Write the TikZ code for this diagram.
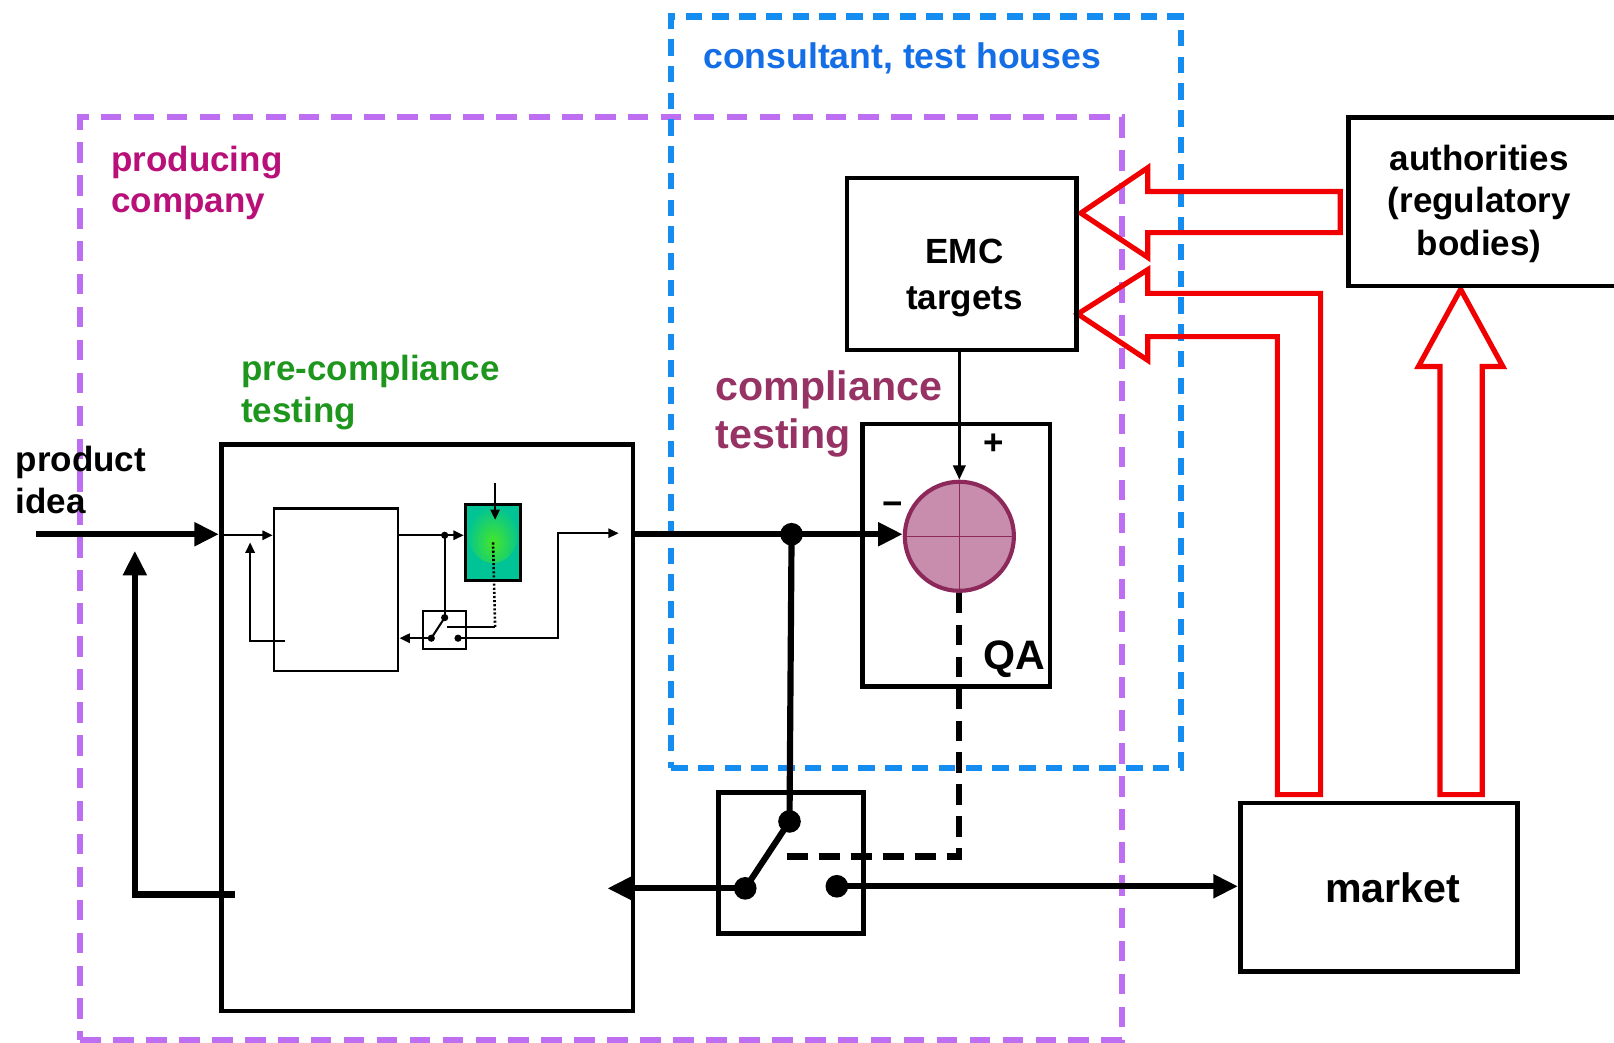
\documentclass[tikz,border=0pt]{standalone}
\usepackage{fontspec}
\setmainfont{Liberation Sans}
\usetikzlibrary{arrows.meta}
\definecolor{vio}{RGB}{190,110,240}
\definecolor{skyb}{RGB}{20,140,240}
\definecolor{txtblue}{RGB}{20,110,230}
\definecolor{prodmag}{RGB}{185,15,120}
\definecolor{pregreen}{RGB}{30,150,30}
\definecolor{compmag}{RGB}{150,50,100}
\definecolor{circfill}{RGB}{200,140,172}
\definecolor{circedge}{RGB}{140,40,90}
\definecolor{arrred}{RGB}{240,0,0}
\definecolor{tealb}{RGB}{0,195,150}
\definecolor{limeb}{RGB}{70,230,40}
\begin{document}
\begin{tikzpicture}[x=1pt,y=-1pt,
  frame/.style={line width=6pt, inner sep=0pt},
  blk/.style={draw, line width=4.5pt, inner sep=0pt},
  thinbox/.style={draw, line width=2.2pt, inner sep=0pt},
  conn/.style={line width=6pt},
  tconn/.style={line width=2pt},
  dot/.style={circle, fill=black, inner sep=0pt, minimum size=#1},
  txt/.style={inner sep=0pt, font=\bfseries\fontsize{34}{41}\selectfont, align=left},
  bigtxt/.style={inner sep=0pt, font=\bfseries\fontsize{40}{46}\selectfont, align=left},
  redarrow/.style={draw=arrred, line width=5pt, line join=miter},
  bigtri/.tip={Triangle[length=24pt,width=22pt]},
  medtri/.tip={Triangle[length=14pt,width=12pt]},
  smtri/.tip={Triangle[length=10pt,width=9pt]}]
\useasboundingbox (0,0) rectangle (1568,1013);

% region frames
\node[frame, draw=vio, dash pattern=on 20pt off 12pt, minimum width=1012pt, minimum height=896pt] (prodframe) at (584,562) {};
\node[frame, draw=skyb, dash pattern=on 16pt off 10pt, minimum width=495pt, minimum height=730pt] (consframe) at (899.5,381) {};

% labels
\node[txt, text=txtblue, anchor=west, font=\bfseries\fontsize{34.6}{41}\selectfont] (constxt) at (683,57) {consultant, test houses};
\node[txt, text=prodmag, anchor=west, font=\bfseries\fontsize{34}{40}\selectfont] (prodtxt) at (108,178) {producing\\company};
\node[txt, text=pregreen, anchor=west] (pretxt) at (234,381) {pre-compliance\\testing};
\node[bigtxt, text=compmag, anchor=west] (comptxt) at (695,402) {compliance\\testing};
\node[txt, anchor=west] (prodidea) at (15,466) {product\\idea};

% red block arrows
\draw[redarrow] (1302,186) -- (1115,186) -- (1115,163) -- (1050,207) -- (1115,250) -- (1115,226) -- (1302,226) -- cycle;
\draw[redarrow] (1047,305) -- (1115,262) -- (1115,285) -- (1283,285) -- (1283,772) -- (1241,772) -- (1241,327) -- (1115,327) -- (1115,350) -- cycle;
\draw[redarrow] (1419,281) -- (1460,356) -- (1440,356) -- (1440,772) -- (1399,772) -- (1399,356) -- (1378,356) -- cycle;

% boxes
\node[blk, minimum width=400pt, minimum height=550pt] (big) at (415,707) {};
\node[thinbox, minimum width=121pt, minimum height=158pt] (inner) at (326.5,573) {};
\node[thinbox, line width=3pt, fill=tealb, minimum width=54pt, minimum height=73pt,
  path picture={\shade[inner color=limeb, outer color=tealb] ([yshift=8pt]path picture bounding box.center) ellipse (24pt and 28pt);}] (green) at (479,527) {};
\node[thinbox, minimum width=42pt, minimum height=37pt] (smsw) at (432,612) {};
\node[blk, minimum width=223pt, minimum height=167pt] (emc) at (934.5,256.5) {};
\node[txt, align=center, font=\bfseries\fontsize{34}{44}\selectfont] (emctxt) at (937,270) {EMC\\targets};
\node[blk, minimum width=182pt, minimum height=255pt] (qa) at (929,539.5) {};
\node[bigtxt] (qatxt) at (985,640) {QA};
\node[circle, draw=circedge, line width=4pt, fill=circfill, minimum size=106pt, inner sep=0pt] (circ) at (932,521) {};
\draw[circedge, line width=0.7pt] (circ.west) -- (circ.east) (circ.north) -- (circ.south);
\node[txt] (plus) at (965,432) {+};
\node[txt] (minus) at (867,494) {−};
\node[blk, minimum width=141pt, minimum height=137pt] (sw) at (768.5,838.5) {};
\node[blk, minimum width=269pt, minimum height=164pt] (market) at (1339.5,862) {};
\node[bigtxt] (markettxt) at (1353,862) {market};
\node[blk, minimum width=262pt, minimum height=164pt] (auth) at (1441,196) {};
\node[txt, align=center] (authtxt) at (1437,198) {authorities\\(regulatory\\bodies)};

% dots
\node[dot=22pt] (junc) at (769,519) {};
\node[dot=22pt] (swtop) at (767,798) {};
\node[dot=22pt] (swleft) at (724,863) {};
\node[dot=22pt] (swright) at (813,861) {};
\node[dot=7pt] (sdot) at (432,520) {};
\node[dot=7pt] (stop) at (432,600) {};
\node[dot=7pt] (sleft) at (419,620) {};
\node[dot=7pt] (sright) at (445,620) {};

% coordinates
\coordinate (pi) at (35,519);
\coordinate (fbs) at (228,869);
\coordinate (fbe) at (131,535);
\coordinate (retend) at (590,863);
\coordinate (swctl) at (757,832);
\coordinate (in1) at (215,520);
\coordinate (sfbs) at (277,623);
\coordinate (sfbe) at (243,527);
\coordinate (k1) at (542,518);
\coordinate (k2) at (601,518);
\coordinate (gt) at (481,469);
\coordinate (gtip) at (481,505);
\coordinate (gd) at (481,609);
\coordinate (gdl) at (434,609);

% main connectors
\draw[conn,-bigtri] (pi) -- (big.west |- pi);
\draw[conn,-bigtri] (fbs) -| (fbe);
\draw[conn] (big.east |- junc) -- (junc.center);
\draw[conn,-bigtri] (junc.center) -- (circ.west |- junc);
\draw[conn] (junc.center) -- (swtop.center);
\draw[conn] (swleft.center) -- (swtop.center);
\draw[conn,-bigtri] (swleft.center) -- (retend);
\draw[conn,-bigtri] (swright.center) -- (market.west |- swright);
\draw[conn, dash pattern=on 20pt off 11pt] (circ.south) |- (swctl);
\draw[line width=3pt,-medtri] (emc.south -| circ.north) -- (circ.north);

% inner (pre-compliance) connectors
\draw[tconn,-smtri] (in1) -- (inner.west |- in1);
\draw[tconn,-smtri] (sfbs) -| (sfbe);
\draw[tconn] (inner.east |- sdot) -- (sdot.center);
\draw[tconn,-smtri] (sdot.center) -- (green.west |- sdot);
\draw[tconn] (sdot.center) -- (stop.center);
\draw[tconn] (stop.center) -- (sleft.center);
\draw[tconn,-smtri] (sleft.center) -- (inner.east |- sleft);
\draw[tconn,-smtri] (sright.center) -| (k1) -- (k2);
\draw[tconn,-smtri] (gt) -- (gtip);
\draw[tconn, dotted, line width=2.5pt] (green.center) -- (gd);
\draw[tconn] (gd) -- (gdl);
\end{tikzpicture}
\end{document}
